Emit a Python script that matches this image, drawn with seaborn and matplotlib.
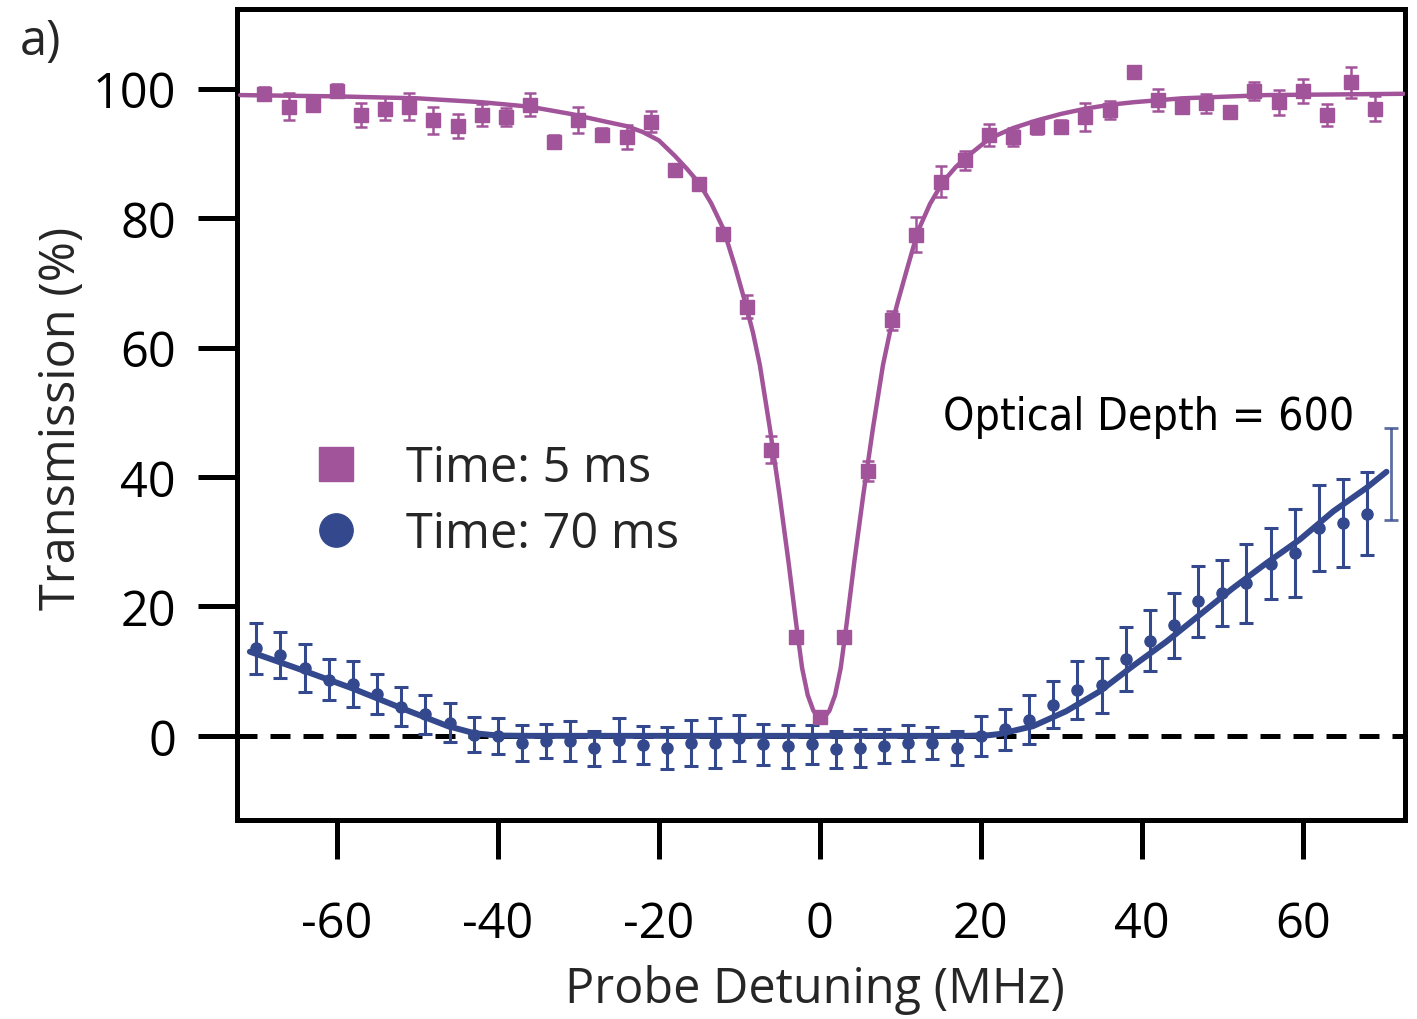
import matplotlib
matplotlib.use("Agg")
import matplotlib.pyplot as plt
from matplotlib.lines import Line2D
from matplotlib import font_manager
import seaborn as sns

# ---- measured transmission, 5 ms after loading -----------------------------
detuning_5ms = [-69, -66, -63, -60, -57, -54, -51, -48, -45, -42, -39, -36,
                -33, -30, -27, -24, -21, -18, -15, -12, -9, -6, -3, 0,
                3, 6, 9, 12, 15, 18, 21, 24, 27, 30, 33, 36,
                39, 42, 45, 48, 51, 54, 57, 60, 63, 66, 69]
trans_5ms = [99.2, 97.2, 97.4, 99.7, 95.9, 96.9, 97.2, 95.1, 94.2, 95.9, 95.6, 97.5,
             91.8, 95.1, 92.9, 92.5, 94.9, 87.4, 85.2, 77.5, 66.3, 44.2, 15.2, 2.9,
             15.2, 40.9, 64.2, 77.4, 85.6, 88.9, 92.8, 92.5, 94.0, 94.1, 95.6, 96.7,
             102.6, 98.2, 97.2, 97.7, 96.4, 99.6, 97.9, 99.6, 95.9, 101.0, 96.9]
err_5ms = [1.0, 2.1, 0.8, 1.0, 1.9, 1.8, 2.1, 2.1, 1.9, 1.7, 1.4, 1.8,
           1.0, 2.0, 1.0, 1.9, 1.6, 0.8, 0.9, 0.9, 1.8, 2.1, 0.9, 0.8,
           0.9, 1.5, 1.5, 2.7, 2.4, 1.5, 1.7, 1.4, 1.0, 1.0, 2.2, 1.4,
           0.8, 1.7, 0.9, 1.4, 0.8, 1.4, 1.9, 1.9, 1.7, 2.4, 1.9]

# ---- measured transmission, 70 ms after loading ----------------------------
detuning_70ms = [-70, -67, -64, -61, -58, -55, -52, -49, -46, -43, -40, -37,
                 -34, -31, -28, -25, -22, -19, -16, -13, -10, -7, -4, -1,
                 2, 5, 8, 11, 14, 17, 20, 23, 26, 29, 32, 35,
                 38, 41, 44, 47, 50, 53, 56, 59, 62, 65, 68]
trans_70ms = [13.5, 12.5, 10.5, 8.7, 8.0, 6.5, 4.5, 3.3, 2.0, 0.2, 0.0, -1.1,
              -0.8, -0.8, -1.9, -0.6, -1.4, -1.85, -1.1, -1.1, -0.3, -1.3, -1.6, -1.3,
              -2.1, -1.85, -1.6, -1.1, -1.1, -1.85, 0.0, 1.0, 2.5, 4.8, 7.1, 7.8,
              11.9, 14.7, 17.1, 20.8, 22.1, 23.6, 26.6, 28.2, 32.1, 32.9, 34.3]
err_70ms = [3.9, 3.5, 3.7, 3.2, 3.5, 3.1, 3.0, 3.0, 3.0, 2.7, 2.75, 2.8,
            2.65, 3.1, 2.7, 3.3, 3.0, 3.2, 3.6, 3.9, 3.55, 3.2, 3.3, 3.0,
            2.9, 2.9, 2.6, 2.8, 2.5, 2.6, 3.1, 3.2, 3.8, 3.6, 4.5, 4.2,
            4.9, 4.75, 5.0, 5.5, 5.1, 6.1, 5.5, 6.8, 6.6, 6.8, 6.4]

# outermost 70 ms bin: only its error bar is shown
detuning_70ms_edge = [71]
trans_70ms_edge = [40.5]
err_70ms_edge = [7.1]

# ---- fitted transmission profiles -------------------------------------------
fit_x_5ms = [-72, -60, -50, -42, -36, -31, -27, -24, -22, -20, -18, -16.5,
             -15, -13.5, -12, -10.5, -9.3, -8.3, -7.45, -6.2, -5, -3.9, -2.9, -2.2,
             -1.5, -0.8, -0.2, 0.2, 0.6, 1.2, 1.9, 2.6, 3.3, 4.3, 5.4, 6.6,
             7.85, 8.7, 9.7, 10.9, 12.2, 13.7, 15.3, 16.9, 18.5, 21.1, 24, 27,
             30, 33, 36, 39, 45, 55.5, 72.5]
fit_y_5ms = [99.0, 98.8, 98.5, 97.9, 97.2, 96.1, 95.0, 94.2, 93.3, 92.0, 89.6, 87.6,
             85.4, 82.3, 78.4, 72.4, 67.1, 62.3, 57.3, 47.5, 37.2, 27.0, 17.0, 10.5,
             6.3, 3.9, 2.9, 2.7, 2.9, 3.9, 6.3, 10.5, 17.0, 27.0, 37.2, 47.5,
             57.3, 62.3, 67.1, 72.4, 78.0, 82.2, 85.6, 87.9, 89.7, 92.3, 93.9, 95.1,
             96.1, 96.9, 97.5, 97.9, 98.5, 99.0, 99.2]

fit_x_70ms = [-70.8, -64.4, -58.2, -52, -46.2, -42.9, -40, -36, 0, 18, 21, 22.4,
              26.5, 30.6, 34.8, 38.9, 43.1, 47.2, 51.3, 55.5, 59.6, 63.8, 67.9, 70.4]
fit_y_70ms = [13.0, 10.2, 7.4, 4.3, 1.5, 0.4, 0.05, 0.0, 0.0, 0.0, 0.1, 0.3,
              1.5, 3.8, 6.9, 10.8, 14.6, 18.7, 22.8, 26.7, 30.3, 34.7, 38.3, 40.8]

# ---- text -------------------------------------------------------------------
series_labels = ["Time: 5 ms", "Time: 70 ms"]
x_ticks = [-60, -40, -20, 0, 20, 40, 60]
y_ticks = [0, 20, 40, 60, 80, 100]
x_label = "Probe Detuning (MHz)"
y_label = "Transmission (%)"
od_label = "Optical Depth = 600"
panel_label = "a)"

PINK = "#A2549A"
BLUE = "#34498D"

sns.set_theme(style="ticks")
plt.rcParams["font.family"] = ["Open Sans", "DejaVu Sans"]
plt.rcParams["axes.unicode_minus"] = False
plt.rcParams["axes.linewidth"] = 3.6
plt.rcParams["axes.edgecolor"] = "black"

# narrow face for the optical-depth annotation, falling back to DejaVu Sans
fonts = font_manager.fontManager.ttflist
names = {f.name for f in fonts}
od_kw = dict(family="DejaVu Sans", fontsize=29)
if "Liberation Sans Narrow" in names:
    od_kw = dict(family="Liberation Sans Narrow", fontsize=41)
elif any(f.name == "DejaVu Sans" and f.stretch == "condensed" for f in fonts):
    od_kw = dict(family="DejaVu Sans", fontstretch="condensed", fontsize=32)

W, H = 1417, 1020
fig = plt.figure(figsize=(W / 100, H / 100), dpi=100)
ax = fig.add_axes([237 / W, 1 - 821 / H, (1405 - 237) / W, (821 - 10) / H])

# zero-transmission reference
ax.axhline(0, color="black", lw=3.6, dashes=(4, 2.6), zorder=1)

# 70 ms run
sns.lineplot(x=fit_x_70ms, y=fit_y_70ms, ax=ax, color=BLUE, lw=4.3, zorder=3)
ax.errorbar(detuning_70ms, trans_70ms, yerr=err_70ms, fmt="o", ms=8,
            color=BLUE, ecolor=BLUE, elinewidth=2.2, capsize=4.7, capthick=2.2,
            zorder=4)
ax.errorbar(detuning_70ms_edge, trans_70ms_edge, yerr=err_70ms_edge, fmt="none",
            ecolor=BLUE, alpha=0.8, elinewidth=2.0, capsize=4.7, capthick=2.0,
            zorder=4, clip_on=False)

# 5 ms run
sns.lineplot(x=fit_x_5ms, y=fit_y_5ms, ax=ax, color=PINK, lw=3.2, zorder=5)
ax.errorbar(detuning_5ms, trans_5ms, yerr=err_5ms, fmt="s", ms=9.5,
            color=PINK, ecolor=PINK, elinewidth=1.8, capsize=4.0, capthick=1.8,
            zorder=6)

ax.set_xlim(-72.4, 72.7)
ax.set_ylim(-13.0, 112.3)
ax.set_xticks(x_ticks)
ax.set_yticks(y_ticks)
ax.set_xticklabels([str(v) for v in x_ticks])
ax.set_yticklabels([str(v) for v in y_ticks])
ax.tick_params(axis="both", direction="out", length=28, width=3.6,
               labelsize=35, colors="black", top=False, right=False)
ax.tick_params(axis="y", pad=16)
ax.tick_params(axis="x", pad=29)
for side in ["top", "right", "left", "bottom"]:
    ax.spines[side].set_visible(True)
    ax.spines[side].set_linewidth(3.6)
ax.grid(False)

ax.set_xlabel(x_label, fontsize=35)
ax.set_ylabel(y_label, fontsize=35)
ax.xaxis.set_label_coords((815 - 237) / 1168, (821 - 990) / 811)
ax.yaxis.set_label_coords((62 - 237) / 1168, (821 - 418) / 811)
ax.xaxis.label.set_va("center")
ax.yaxis.label.set_va("center")

ax.text(15.3, 49.4, od_label, ha="left", va="center", color="black", **od_kw)

handles = [
    Line2D([], [], marker="s", ls="none", ms=24, color=PINK),
    Line2D([], [], marker="o", ls="none", ms=24, color=BLUE),
]
ax.legend(handles, series_labels, loc="center left",
          bbox_to_anchor=(312 / W, 1 - 502 / H), bbox_transform=fig.transFigure,
          frameon=False, fontsize=35, handlelength=1.0, handletextpad=0.94,
          borderpad=0, borderaxespad=0, labelspacing=0.33)

fig.text(20 / W, 1 - 42 / H, panel_label, fontsize=35, ha="left", va="center")

fig.savefig("out.png", dpi=100)
